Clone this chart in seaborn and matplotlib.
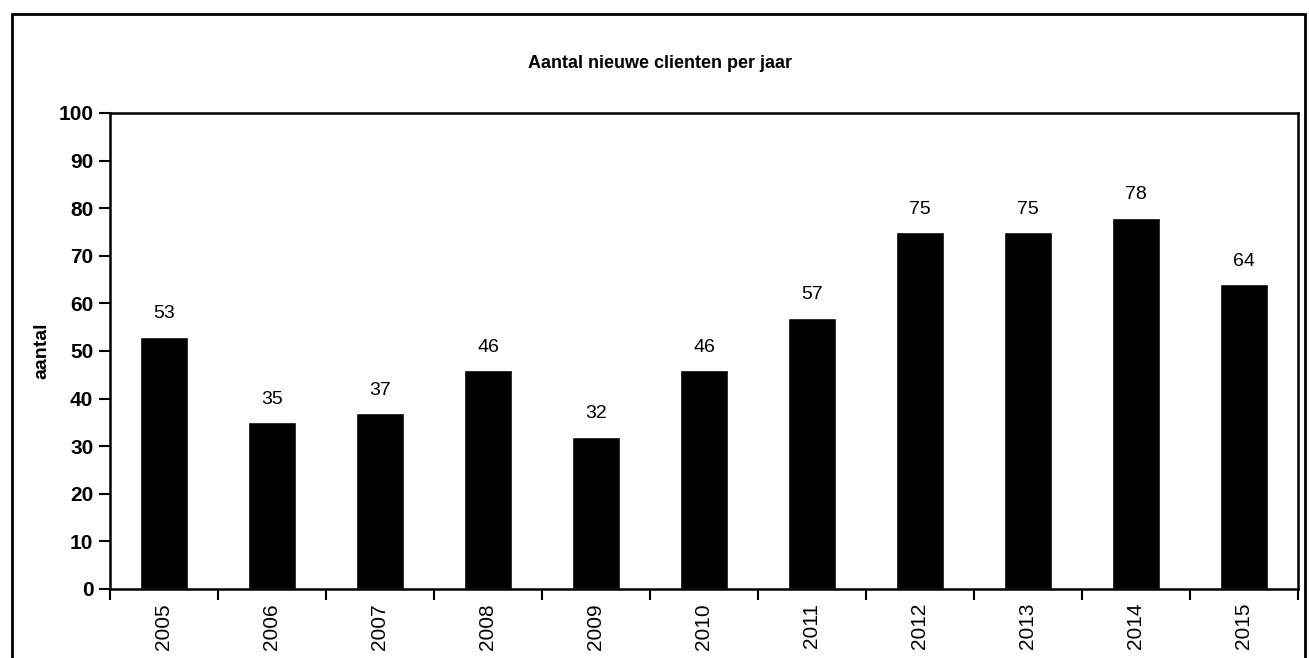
import pandas as pd
import matplotlib.pyplot as plt
import seaborn as sns
from matplotlib.patches import Rectangle

years = ['2005', '2006', '2007', '2008', '2009', '2010',
         '2011', '2012', '2013', '2014', '2015']
clients = [53, 35, 37, 46, 32, 46, 57, 75, 75, 78, 64]

df = pd.DataFrame({'jaar': years, 'aantal': clients})

sns.set_theme(style="white")
plt.rcParams['font.family'] = ['Liberation Sans', 'DejaVu Sans']
plt.rcParams['text.color'] = 'black'
plt.rcParams['xtick.color'] = 'black'
plt.rcParams['ytick.color'] = 'black'
plt.rcParams['axes.labelcolor'] = 'black'

fig = plt.figure(figsize=(13.09, 6.58), dpi=100)
ax = fig.add_axes([110 / 1309, 1 - 589 / 658, (1298 - 110) / 1309, (589 - 113) / 658])

sns.barplot(data=df, x='jaar', y='aantal', color='black', width=0.44,
            saturation=1, ax=ax)

for i, v in enumerate(clients):
    ax.text(i, v + 3, str(v), ha='center', va='bottom', fontsize=14, color='black')

ax.set_ylim(0, 100)
ax.set_xlim(-0.5, len(years) - 0.5)
ax.set_yticks(range(0, 101, 10))
ax.tick_params(axis='y', labelsize=15, length=8, width=1.5, direction='out',
               left=True, pad=4)
ax.set_xticks(range(len(years)))
ax.set_xticklabels(years, rotation=90, fontsize=15)
ax.tick_params(axis='x', length=0, pad=10)
for lbl in ax.get_yticklabels():
    lbl.set_fontweight('bold')

# category boundary ticks on the x axis
ax.set_xticks([i - 0.5 for i in range(len(years) + 1)], minor=True)
ax.tick_params(axis='x', which='minor', length=8, width=1.5, direction='out',
               bottom=True)

for s in ax.spines.values():
    s.set_color('black')
    s.set_linewidth(1.8)

ax.set_xlabel('')
ax.set_ylabel('aantal', fontsize=14, fontweight='bold', labelpad=6)

fig.text(660 / 1309, 1 - 63 / 658, 'Aantal nieuwe clienten per jaar',
         ha='center', va='center', fontsize=13, fontweight='bold')

fig.patches.append(Rectangle((12 / 1309, -0.05), (1305 - 12) / 1309, 1.05 - 14 / 658,
                             transform=fig.transFigure, fill=False,
                             edgecolor='black', linewidth=2))

plt.savefig('out.png', dpi=100)
